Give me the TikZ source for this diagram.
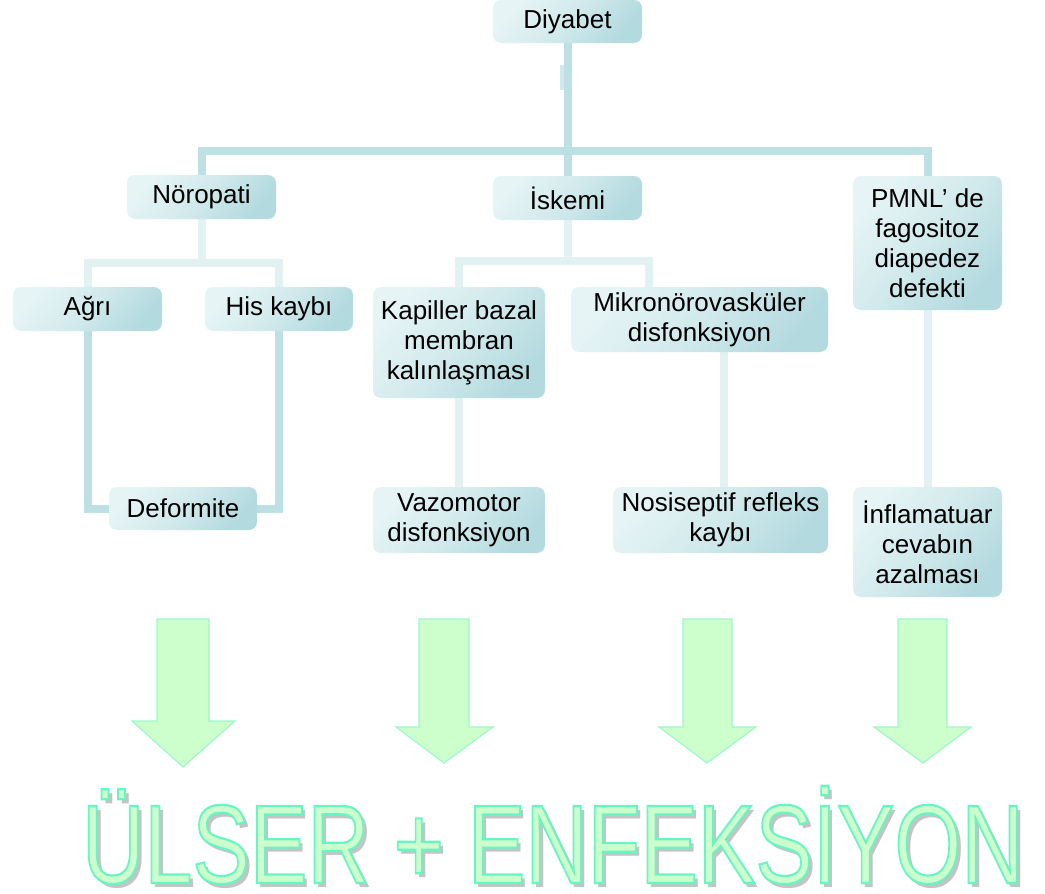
\documentclass[tikz,border=0pt]{standalone}
\usepackage{fontspec}
\setmainfont{Liberation Sans}
\usetikzlibrary{calc,backgrounds}
\definecolor{boxlight}{HTML}{E6F4F5}
\definecolor{boxdark}{HTML}{B3DADF}
\definecolor{linedark}{HTML}{BDE0E4}
\definecolor{linelight}{HTML}{E2F2F3}
\definecolor{arrowfill}{HTML}{CCFFCC}
\definecolor{arrowline}{HTML}{9EF7CC}
\definecolor{shadowgray}{HTML}{C4C4C4}
\newcommand{\outlinetext}[1]{\special{pdf:literal direct 2 Tr 2.2 w 0.4 0.96 0.77 RG}#1\special{pdf:literal direct 0 Tr}}
\begin{document}
\begin{tikzpicture}[x=1pt,y=-1pt,
  box/.style={rounded corners=8pt, top color=boxlight, bottom color=boxdark, middle color=boxlight!60!boxdark, shading angle=50,
    align=center, inner sep=0pt, font=\fontsize{26}{30}\selectfont, text=black},
  darkline/.style={draw=linedark, line width=8pt},
  lightline/.style={draw=linelight, line width=8pt},
  bigarrow/.style={fill=arrowfill, draw=arrowline, line width=1.2pt}]
\useasboundingbox (0,0) rectangle (1045,894);

% boxes
\node[box, minimum width=149, minimum height=43] (diy) at (567.5,21.5) {Diyabet};
\node[box, minimum width=149, minimum height=44] (nor) at (201.5,197) {Nöropati};
\node[box, minimum width=149, minimum height=44] (isk) at (567.5,198) {İskemi};
\node[box, minimum width=149, minimum height=134] (pmnl) at (927.5,243) {PMNL’ de\\fagositoz\\diapedez\\defekti};
\node[box, minimum width=149, minimum height=44] (agri) at (87.5,309) {Ağrı};
\node[box, minimum width=148, minimum height=44] (his) at (279,309) {His kaybı};
\node[box, minimum width=172, minimum height=111] (kap) at (459,342.5) {Kapiller bazal\\membran\\kalınlaşması};
\node[box, minimum width=257, minimum height=65] (mik) at (699.5,319.5) {Mikronörovasküler\\disfonksiyon};
\node[box, minimum width=148, minimum height=43] (def) at (183,508.5) {Deformite};
\node[box, minimum width=172, minimum height=66] (vaz) at (459,520) {Vazomotor\\disfonksiyon};
\node[box, minimum width=215, minimum height=66] (nos) at (720.5,520) {Nosiseptif refleks\\kaybı};
\node[box, minimum width=149, minimum height=110] (inf) at (927.5,542) {İnflamatuar\\cevabın\\azalması};

% connectors (behind boxes)
\coordinate (hl) at (0,151);
\coordinate (mikdrop) at ($(mik.north)+(-50.5,0)$);
\coordinate (mikbot) at ($(mik.south)+(24.5,0)$);
\begin{scope}[on background layer]
\draw[darkline] (diy.south) -- (isk.north);
\draw[darkline] (nor.north) -- (nor.north |- hl) -- (pmnl.north |- hl) -- (pmnl.north);
\fill[linedark!70!white] (560,65) rectangle (563.5,90);
\draw[lightline] (nor.south) -- ++(0,44) -| (agri.north);
\draw[lightline] (nor.south) ++(0,44) -| (his.north);
\draw[darkline] (agri.south) |- (def.west);
\draw[darkline] (his.south) |- (def.east);
\draw[lightline] (isk.south) -- ++(0,41) -| (kap.north);
\draw[lightline] (isk.south) ++(0,41) -| (mikdrop);
\draw[lightline] (kap.south) -- (vaz.north);
\draw[lightline] (mikbot) -- (mikbot |- nos.north);
\draw[lightline] (pmnl.south) -- (inf.north);
\end{scope}

% big arrows
\draw[bigarrow] (157,619) -- (209,619) -- (209,721) -- (235,721) -- (183,767) -- (132,721) -- (157,721) -- cycle;
\draw[bigarrow] (419,619) -- (469,619) -- (469,727) -- (493,727) -- (444,763) -- (396,727) -- (419,727) -- cycle;
\draw[bigarrow] (683,619) -- (732,619) -- (732,727) -- (756,727) -- (707,763) -- (659,727) -- (683,727) -- cycle;
\draw[bigarrow] (898,619) -- (947,619) -- (947,727) -- (971,727) -- (923,763) -- (874,727) -- (898,727) -- cycle;

% big text
\node[anchor=base, inner sep=0pt, text=shadowgray] (shadow) at (557,887)
  {\raisebox{0pt}[\height][0pt]{\scalebox{0.77}[1]{\fontsize{112}{112}\selectfont ÜLSER + ENFEKSİYON}}};
\node[anchor=base, inner sep=0pt] (ulser) at (553,883)
  {\raisebox{0pt}[\height][0pt]{\scalebox{0.77}[1]{\fontsize{112}{112}\selectfont\color{arrowfill}\outlinetext{ÜLSER + ENFEKSİYON}}}};
\end{tikzpicture}
\end{document}
